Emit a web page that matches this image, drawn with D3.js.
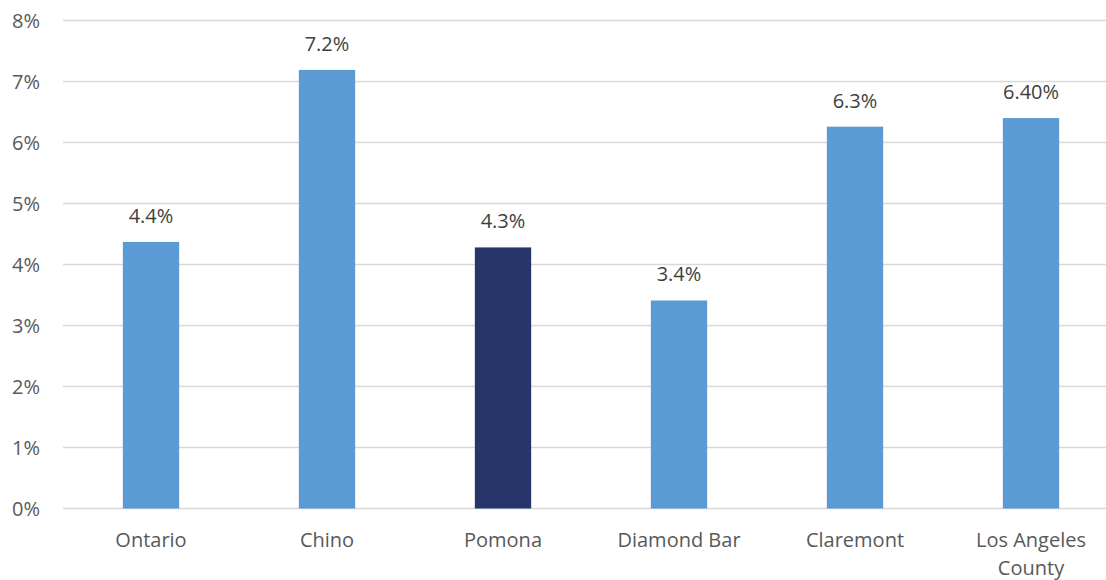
<!DOCTYPE html>
<html><head><meta charset="utf-8">
<script src="https://cdn.jsdelivr.net/npm/d3@7"></script>
<style>body{margin:0;background:#fff}svg{display:block}</style>
</head><body>
<script>
const categories = ["Ontario","Chino","Pomona","Diamond Bar","Claremont","Los Angeles County"];
const values = [4.37, 7.19, 4.28, 3.41, 6.26, 6.40];
const labels = ["4.4%","7.2%","4.3%","3.4%","6.3%","6.40%"];
const highlight = ["Pomona"];
const yTicks = [0,1,2,3,4,5,6,7,8];

const W = 1106, H = 580;
const svg = d3.select("body").append("svg").attr("width", W).attr("height", H);
const font = "'Open Sans', 'Noto Sans', sans-serif";

const x = d3.scaleBand().domain(categories).range([63, 1119]).paddingInner(0.68).paddingOuter(0.34);
const y = d3.scaleLinear().domain([0, 8]).range([508.5, 20.5]);

// gridlines
svg.append("g").selectAll("line").data(yTicks).join("line")
  .attr("x1", 63).attr("x2", W).attr("y1", d => y(d)).attr("y2", d => y(d))
  .attr("stroke", "#d9d9d9").attr("stroke-width", 1.5);

// y labels
svg.append("g").selectAll("text").data(yTicks).join("text")
  .attr("x", 40).attr("y", d => y(d)).attr("dy", "0.35em")
  .attr("text-anchor", "end").attr("font-family", font).attr("font-size", 20)
  .attr("fill", "#595959").text(d => d + "%");

// bars
svg.append("g").selectAll("rect").data(categories).join("rect")
  .attr("x", d => x(d)).attr("width", x.bandwidth())
  .attr("y", (d,i) => y(values[i])).attr("height", (d,i) => y(0) - y(values[i]))
  .attr("fill", d => highlight.includes(d) ? "#27356a" : "#5b9bd5");

// value labels
svg.append("g").selectAll("text").data(categories).join("text")
  .attr("x", d => x(d) + x.bandwidth()/2).attr("y", (d,i) => y(values[i]) - 19)
  .attr("text-anchor", "middle").attr("font-family", font).attr("font-size", 20)
  .attr("fill", "#404040").text((d,i) => labels[i]);

// x labels
const xl = svg.append("g").selectAll("text").data(categories).join("text")
  .attr("x", d => x(d) + x.bandwidth()/2).attr("y", 547)
  .attr("text-anchor", "middle").attr("font-family", font).attr("font-size", 20)
  .attr("fill", "#595959");
xl.each(function(d){
  const t = d3.select(this);
  const parts = d === "Los Angeles County" ? ["Los Angeles","County"] : [d];
  parts.forEach((p,i) => t.append("tspan").attr("x", x(d) + x.bandwidth()/2).attr("dy", i ? 28 : 0).text(p));
});
</script>
</body></html>
